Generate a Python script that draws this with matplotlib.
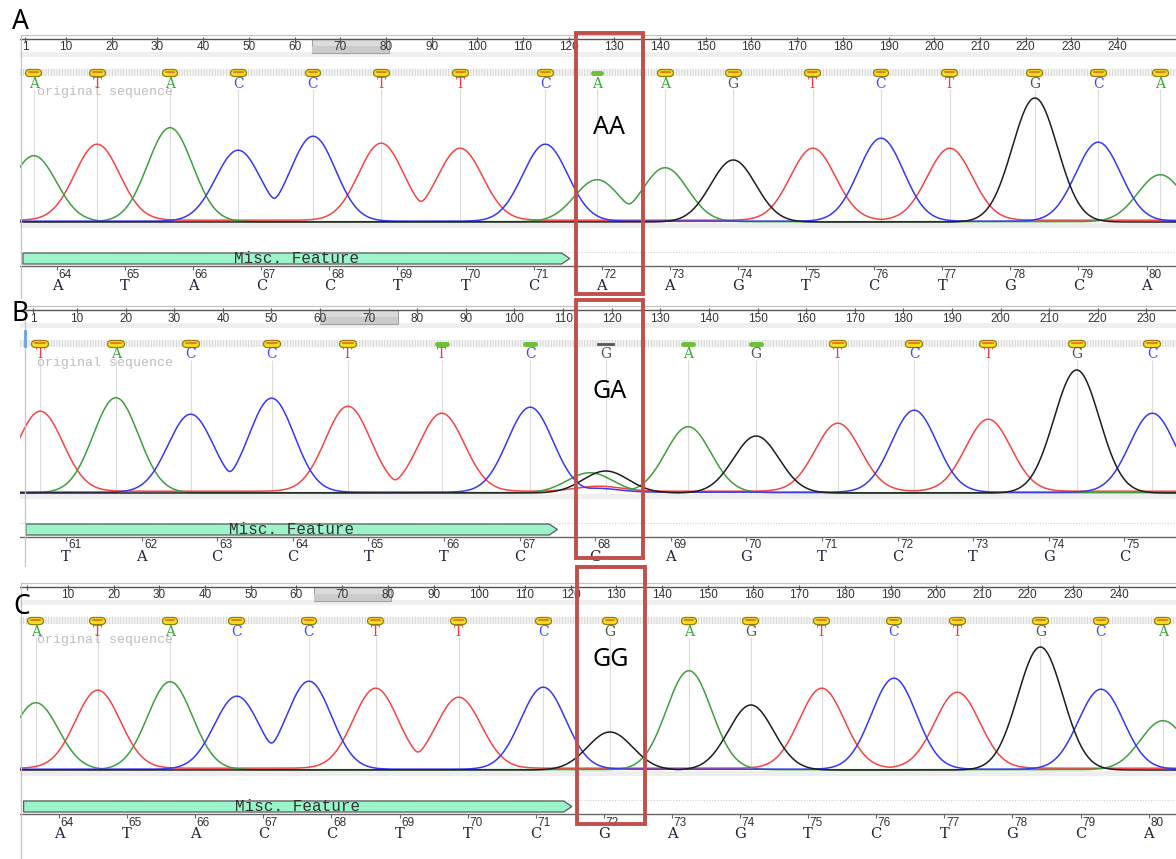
import numpy as np
import matplotlib
matplotlib.use("Agg")
import matplotlib.pyplot as plt
from matplotlib.patches import Polygon, Rectangle

################################################################################
# data
# peak positions are in base units of the sequence track below each trace,
# peak heights are in trace pixels above the baseline

A_calls = list("ATACCTTCAAGTCTGCA")
A_peak_pos = [63.66, 64.59, 65.66, 66.66, 67.76, 68.76, 69.92, 71.17, 71.93,
              72.93, 73.93, 75.10, 76.10, 77.11, 78.36, 79.29, 80.20]
A_peak_height = [66, 76, 94, 71, 85, 77, 72, 77, 42, 54, 62, 72, 83, 72, 124, 79, 47]
A_marks = list("yyyyyyyygyyyyyyyy")
A_extra_base = []
A_extra_pos = []
A_extra_height = []
A_seq_num = list(range(64, 81))
A_seq = list("ATACCTTCAAGTCTGCA")
A_ruler_ticks = [1] + list(range(10, 250, 10))
A_ruler_labels = [str(t) for t in A_ruler_ticks]
A_ruler_thumb = [63.8, 80.7]
A_feature = [63.5, 71.53]
A_box = [71.62, 72.6]

B_calls = list("TACCTTCGAGTCTGC")
B_peak_pos = [60.66, 61.66, 62.65, 63.72, 64.73, 65.97, 67.14, 68.14,
              69.23, 70.13, 71.21, 72.22, 73.20, 74.37, 75.37]
B_peak_height = [80, 95, 78, 94, 85, 78, 85, 22, 66, 57, 68, 82, 72, 123, 79]
B_marks = list("yyyyyggkggyyyyy")
B_extra_base = ['A', 'T', 'C']
B_extra_pos = [67.93, 68.05, 68.0]
B_extra_height = [20, 5, 4]
B_seq_num = list(range(61, 76))
B_seq = list("TACCTTCGAGTCTGC")
B_ruler_ticks = [1] + list(range(10, 240, 10))
B_ruler_labels = [str(t) for t in B_ruler_ticks]
B_ruler_thumb = [60.0, 76.0]
B_feature = [60.47, 67.5]
B_box = [67.75, 68.63]

C_calls = list("ATACCTTCGAGTCTGCA")
C_peak_pos = [63.66, 64.57, 65.63, 66.61, 67.67, 68.65, 69.87, 71.11, 72.09,
              73.25, 74.16, 75.20, 76.26, 77.19, 78.41, 79.30, 80.21]
C_peak_height = [67, 78, 88, 73, 88, 80, 71, 82, 38, 99, 65, 80, 91, 76, 123, 80, 49]
C_marks = list("yyyyyyyyyyyyyyyyy")
C_extra_base = []
C_extra_pos = []
C_extra_height = []
C_seq_num = list(range(64, 81))
C_seq = list("ATACCTTCGAGTCTGCA")
C_ruler_ticks = [1] + list(range(10, 250, 10))
C_ruler_labels = [""] + [str(t) for t in C_ruler_ticks[1:]]   # "1" hidden under panel letter
C_ruler_thumb = [63.8, 80.7]
C_feature = [63.48, 71.53]
C_box = [71.61, 72.6]

genotypes = ["AA", "GA", "GG"]
panel_labels = ["A", "B", "C"]
################################################################################

W, H = 1176, 859

trace_color = {'A': '#3f9f3f', 'C': '#3838f2', 'G': '#1e1e1e', 'T': '#f24646'}
call_color = {'A': '#38a838', 'C': '#4848ff', 'G': '#555555', 'T': '#ff3838'}

plt.rcParams['hatch.linewidth'] = 0.6
fig = plt.figure(figsize=(W / 100, H / 100), dpi=100)
fig.set_facecolor('white')


def px_axes(x0, y0, x1, y1):
    ax = fig.add_axes([x0 / W, 1 - y1 / H, (x1 - x0) / W, (y1 - y0) / H])
    ax.axis('off')
    return ax


def draw_ruler(off, lim, ticks, labels, thumb):
    ax = px_axes(20, 33 + off, 1176, 60 + off)
    ax.set_xlim(lim)
    ax.set_ylim(60, 33)
    ax.axhspan(52, 57, color='#efefef', lw=0)
    ax.add_patch(Rectangle((thumb[0], 39), thumb[1] - thumb[0], 14,
                           fc='#dcdcdc', ec='#a0a0a0', lw=0.8))
    ax.add_patch(Rectangle((thumb[0], 46), thumb[1] - thumb[0], 7,
                           fc='#cbcbcb', ec='none', lw=0))
    ax.axhline(39, color='#555555', lw=1.0)
    ax.vlines(ticks, 37, 41.5, color='#555555', lw=0.8)
    for t, s in zip(ticks, labels):
        ax.text(t, 47.5, s, ha='center', va='center', fontsize=8.5,
                family='Liberation Sans', color='#333333')
    return ax


def channel(x, pos, heights, bases, base, sigma, p=4):
    total = np.zeros_like(x)
    for c, h, b in zip(pos, heights, bases):
        if b == base:
            total += (h * np.exp(-0.5 * ((x - c) / sigma) ** 2)) ** p
    return total ** (1.0 / p)


def draw_trace(off, lim, calls, pos, heights, marks, ex_b, ex_p, ex_h, sigma):
    ax = px_axes(20, 60 + off, 1176, 228 + off)
    ax.set_xlim(lim)
    ax.set_ylim(-6, 162)
    ax.fill_between(lim, 146, 153, facecolor='#f5f5f5', edgecolor='#d2d2d2',
                    hatch='||||||', lw=0)
    ax.axhspan(-5.5, -1, color='#eeeeee', lw=0)
    ax.vlines(pos, 0, 133, color='#dcdcdc', lw=0.8, zorder=1)

    x = np.linspace(lim[0], lim[1], 3000)
    all_pos = list(pos) + list(ex_p)
    all_h = list(heights) + list(ex_h)
    all_b = list(calls) + list(ex_b)
    base_off = {'A': 0.3, 'C': 0.8, 'G': 0.0, 'T': 1.8}
    for b in ['T', 'A', 'C', 'G']:
        y = channel(x, all_pos, all_h, all_b, b, sigma) + base_off[b]
        ax.plot(x, y, color=trace_color[b], lw=1.1, zorder=3)

    for p, c, m in zip(pos, calls, marks):
        seg = [p - 0.065, p + 0.065]
        if m == 'y':
            ax.plot(seg, [149, 149], lw=6.0, color='#8f7d14', solid_capstyle='round', zorder=4)
            ax.plot(seg, [149, 149], lw=4.2, color='#f2e41c', solid_capstyle='round', zorder=5)
            ax.plot(seg, [150.5, 150.5], lw=1.5, color='#ee7a1c', solid_capstyle='round', zorder=6)
        elif m == 'g':
            ax.plot(seg, [149, 149], lw=3.5, color='#6cbf36', solid_capstyle='round', zorder=4)
        else:
            ax.plot([p - 0.1, p + 0.1], [149.5, 149.5], lw=2.0, color='#555555', zorder=4)
        ax.text(p, 138.5, c, ha='center', va='center', fontsize=10,
                family='DejaVu Serif', color=call_color[c], zorder=6)

    ax.text(0.0147, 130, "original sequence", transform=ax.get_yaxis_transform(),
            ha='left', va='center', fontsize=9.5, family='Liberation Mono',
            color='#bdbdbd', zorder=2)
    return ax


def draw_seq(off, lim, nums, seq, feat, line_end):
    ax = px_axes(20, 245 + off, 1176, 296 + off)
    ax.set_xlim(lim)
    ax.set_ylim(296, 245)
    ax.axhline(252, color='#cfcfcf', ls=(0, (1, 1.5)), lw=0.8)
    x0, x1 = feat
    tip = 0.12 * (lim[1] - lim[0]) / 17.0
    ax.add_patch(Polygon([(x0, 253), (x1 - tip, 253), (x1, 258.5), (x1 - tip, 264), (x0, 264)],
                         closed=True, fc='#9cf5ca', ec='#5a5a5a', lw=0.9, zorder=3))
    ax.text((x0 + x1) / 2, 258.3, "Misc. Feature", ha='center', va='center',
            fontsize=11.5, family='Liberation Mono', color='#333333', zorder=4)
    ax.plot([lim[0], line_end], [266, 266], color='#666666', lw=1.0)
    ax.vlines(nums, 266, 269.5, color='#666666', lw=0.8)
    step = nums[1] - nums[0]
    for n, s in zip(nums, seq):
        ax.text(n + 0.12 * step, 274.5, str(n), ha='center', va='center', fontsize=8.5,
                family='Liberation Sans', color='#333333')
        ax.text(n, 286, s, ha='center', va='center', fontsize=10.5,
                family='DejaVu Serif', color='#22223a')
    return ax


################################################################################
# panel frames (thin grey screenshot borders)
bg = px_axes(0, 0, W, H)
bg.set_xlim(0, W)
bg.set_ylim(H, 0)
for top, left, bottom in [(35, 21, 298), (306, 25, 566), (583, 21, 859)]:
    bg.plot([left, W], [top, top], color='#c4c4c4', lw=0.9)
    bg.plot([left, left], [top, bottom], color='#c4c4c4', lw=0.9)
bg.plot([25, 25], [331, 346], color='#6aa0e6', lw=2.0)

################################################################################
panels = [
    (0, (-0.07, 252.9), (63.457, 80.432), A_ruler_ticks, A_ruler_labels, A_ruler_thumb,
     A_calls, A_peak_pos, A_peak_height, A_marks, A_extra_base, A_extra_pos, A_extra_height,
     A_seq_num, A_seq, A_feature, A_box, 80.45, 0.33, (33, 294), 127, (20, 22)),
    (271, (-1.73, 236.1), (60.392, 75.683), B_ruler_ticks, B_ruler_labels, B_ruler_thumb,
     B_calls, B_peak_pos, B_peak_height, B_marks, B_extra_base, B_extra_pos, B_extra_height,
     B_seq_num, B_seq, B_feature, B_box, 75.683, 0.30, (300, 558), 392, (20, 314)),
    (548, (-0.5, 252.45), (63.427, 80.402), C_ruler_ticks, C_ruler_labels, C_ruler_thumb,
     C_calls, C_peak_pos, C_peak_height, C_marks, C_extra_base, C_extra_pos, C_extra_height,
     C_seq_num, C_seq, C_feature, C_box, 80.45, 0.33, (567, 824), 660, (22, 607)),
]

for i, (off, rlim, blim, rticks, rlabels, thumb, calls, pos, hts, marks, exb, exp_, exh,
        nums, seq, feat, box, lend, sig, box_rows, gt_row, lab_xy) in enumerate(panels):
    draw_ruler(off, rlim, rticks, rlabels, thumb)
    draw_trace(off, blim, calls, pos, hts, marks, exb, exp_, exh, sig)
    ax_seq = draw_seq(off, blim, nums, seq, feat, lend)

    # genotype box, placed through the sequence track scale
    xl = ax_seq.transData.transform((box[0], 0))[0]
    xr = ax_seq.transData.transform((box[1], 0))[0]
    bg.add_patch(Rectangle((xl, box_rows[0]), xr - xl, box_rows[1] - box_rows[0],
                           fill=False, ec='#c0504d', lw=2.8, zorder=10))
    bg.text((xl + xr) / 2, gt_row, genotypes[i], ha='center', va='center',
            fontsize=18, family='Noto Sans', color='black', zorder=11)
    bg.text(lab_xy[0], lab_xy[1], panel_labels[i], ha='center', va='center',
            fontsize=19, family='Noto Sans', color='black', zorder=11)

bg.set_zorder(5)
bg.patch.set_alpha(0)

fig.savefig("out.png", dpi=100, facecolor='white')
